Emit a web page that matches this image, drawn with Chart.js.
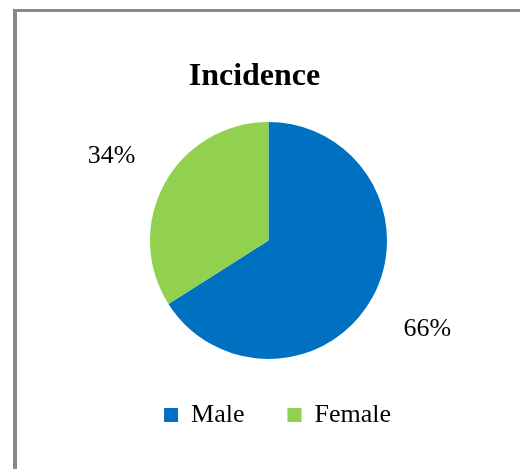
<!DOCTYPE html>
<html lang="en">
<head>
    <meta charset="UTF-8">
    <title>Incidence</title>
    <script src="https://cdn.jsdelivr.net/npm/chart.js"></script>
    <style>
        body {
            margin: 0;
            background: #fff;
            overflow: hidden;
        }
        .frame {
            position: absolute;
            left: 13px;
            top: 9px;
            width: 600px;
            height: 600px;
            border-top: 3px solid #888;
            border-left: 4px solid #888;
        }
        .chart-container {
            position: absolute;
            left: 0;
            top: 0;
            width: 520px;
            height: 469px;
        }
    </style>
</head>
<body>
    <div class="frame"></div>
    <div class="chart-container">
        <canvas id="pieChart" width="520" height="469"></canvas>
    </div>

    <script>
        const chartTitle = 'Incidence';
        const categories = ['Male', 'Female'];
        const incidence = [66, 34];
        const sliceColors = ['#0070C0', '#92D050'];

        const serif = '"Liberation Serif", "Times New Roman", serif';

        // title + percentage labels outside the slices
        const outsideText = {
            id: 'outsideText',
            afterDraw(chart) {
                const c = chart.ctx;
                c.save();
                c.fillStyle = '#000';
                c.textAlign = 'center';
                c.textBaseline = 'alphabetic';
                c.font = 'bold 32px ' + serif;
                c.fillText(chartTitle, 254.5, 85);

                c.font = '26px ' + serif;
                const meta = chart.getDatasetMeta(0);
                meta.data.forEach((arc, i) => {
                    const mid = (arc.startAngle + arc.endAngle) / 2;
                    const r = arc.outerRadius * 1.52;
                    const x = arc.x + Math.cos(mid) * r;
                    const y = arc.y + Math.sin(mid) * r;
                    c.fillText(incidence[i] + '%', x + 1, y + 9);
                });
                c.restore();
            }
        };

        const ctx = document.getElementById('pieChart').getContext('2d');
        new Chart(ctx, {
            type: 'pie',
            data: {
                labels: categories,
                datasets: [{
                    data: incidence,
                    backgroundColor: sliceColors,
                    borderWidth: 0,
                    hoverOffset: 0
                }]
            },
            options: {
                responsive: false,
                animation: false,
                layout: {
                    padding: { top: 122, left: 103, right: 86, bottom: 31 }
                },
                plugins: {
                    title: { display: false },
                    tooltip: { enabled: false },
                    legend: {
                        position: 'bottom',
                        align: 'end',
                        labels: {
                            boxWidth: 14,
                            boxHeight: 14,
                            padding: 43,
                            color: '#000',
                            font: { family: serif, size: 26 }
                        }
                    }
                }
            },
            plugins: [outsideText]
        });
    </script>
</body>
</html>
